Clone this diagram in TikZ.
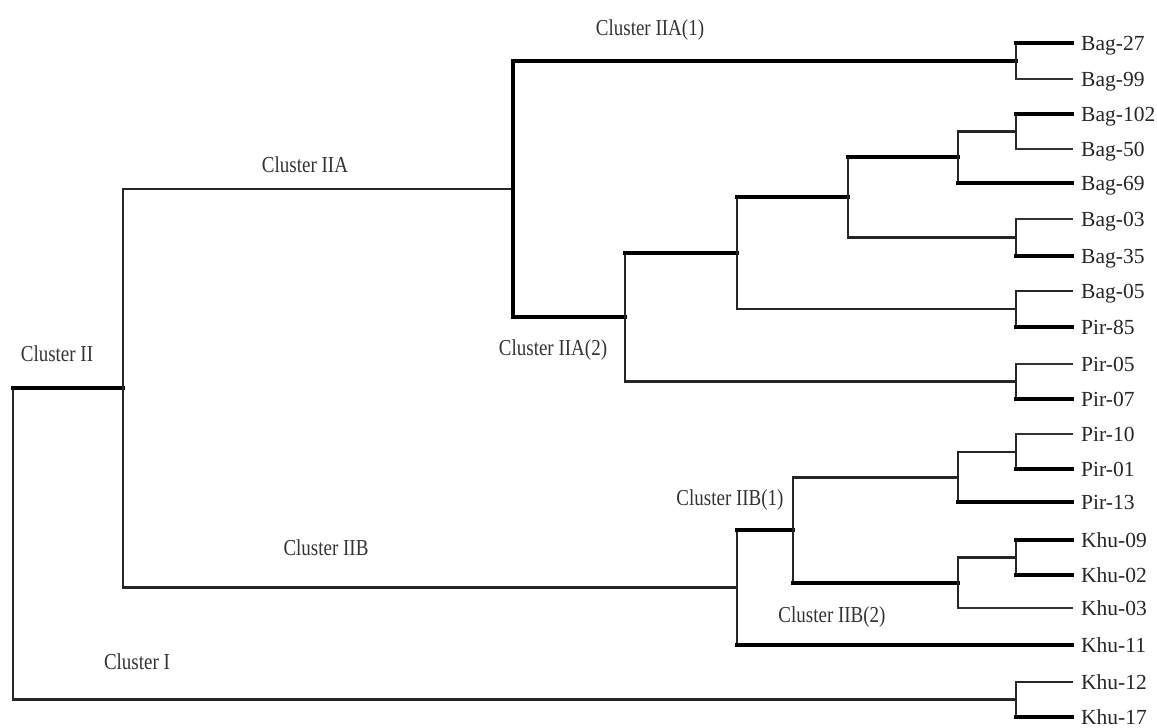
\documentclass[tikz,border=0pt]{standalone}
\usepackage{fontspec}
\setmainfont{Liberation Serif}
\newcommand\elb[4]{\draw[#3] (#1) -- (#1 |- #2); \draw[#4] (#1 |- #2) -- (#2);}
\begin{document}
\begin{tikzpicture}[x=1pt,y=-1pt,
  ln/.style={line width=2.2pt, line cap=rect, draw=black!85},
  lthin/.style={line width=1.6pt, line cap=rect, draw=black!80},
  lthick/.style={line width=3.2pt, line cap=rect, draw=black},
  lvthick/.style={line width=4.8pt, line cap=rect, draw=black},
  leaf/.style={anchor=west, inner xsep=9pt, inner ysep=0pt, text height=14.2pt, text depth=0pt,
    font=\fontsize{21.5}{24}\selectfont, text=black!85},
  clab/.style={font=\fontsize{19}{21}\selectfont, text=black!80, inner sep=0pt}]
\path[use as bounding box] (0,0) rectangle (1157,728);

% internal joins
\coordinate (root) at (13,544);
\coordinate (c2) at (123,388);
\coordinate (c2a) at (513,189);
\coordinate (c2b) at (737,587.5);
\coordinate (a1) at (1016,61);
\coordinate (a2) at (625,317);
\coordinate (n253) at (737,253);
\coordinate (n197) at (848,197);
\coordinate (n157) at (958,157);
\coordinate (b131) at (1016,131.5);
\coordinate (b237) at (1016,237.5);
\coordinate (p309) at (1016,309);
\coordinate (p381) at (1016,381.5);
\coordinate (b1) at (793,530);
\coordinate (n478) at (958,477.5);
\coordinate (n583) at (958,583);
\coordinate (p452) at (1016,452);
\coordinate (k557) at (1016,557.5);
\coordinate (k1217) at (1016,699.5);

% leaves
\node[leaf] (Bag27) at (1072,43) {Bag-27};
\node[leaf] (Bag99) at (1072,79) {Bag-99};
\node[leaf] (Bag102) at (1072,114) {Bag-102};
\node[leaf] (Bag50) at (1072,149) {Bag-50};
\node[leaf] (Bag69) at (1072,183) {Bag-69};
\node[leaf] (Bag03) at (1072,219) {Bag-03};
\node[leaf] (Bag35) at (1072,256) {Bag-35};
\node[leaf] (Bag05) at (1072,291) {Bag-05};
\node[leaf] (Pir85) at (1072,327) {Pir-85};
\node[leaf] (Pir05) at (1072,364) {Pir-05};
\node[leaf] (Pir07) at (1072,399) {Pir-07};
\node[leaf] (Pir10) at (1072,434) {Pir-10};
\node[leaf] (Pir01) at (1072,469) {Pir-01};
\node[leaf] (Pir13) at (1072,502) {Pir-13};
\node[leaf] (Khu09) at (1072,540) {Khu-09};
\node[leaf] (Khu02) at (1072,575) {Khu-02};
\node[leaf] (Khu03) at (1072,608) {Khu-03};
\node[leaf] (Khu11) at (1072,645) {Khu-11};
\node[leaf] (Khu12) at (1072,682) {Khu-12};
\node[leaf] (Khu17) at (1072,717) {Khu-17};

% tree
\elb{root}{c2}{ln}{lvthick}
\elb{root}{k1217}{ln}{ln}
\elb{c2}{c2a}{ln}{ln}
\elb{c2}{c2b}{ln}{ln}
\elb{c2a}{a1}{lthick}{lthick}
\elb{c2a}{a2}{lthick}{lthick}
\elb{a1}{Bag27.west}{ln}{lthick}
\elb{a1}{Bag99.west}{ln}{lthin}
\elb{a2}{n253}{ln}{lthick}
\elb{a2}{p381}{ln}{ln}
\elb{n253}{n197}{ln}{lthick}
\elb{n253}{p309}{ln}{ln}
\elb{n197}{n157}{ln}{lthick}
\elb{n197}{b237}{ln}{ln}
\elb{n157}{b131}{ln}{ln}
\elb{n157}{Bag69.west}{ln}{lvthick}
\elb{b131}{Bag102.west}{ln}{lthick}
\elb{b131}{Bag50.west}{ln}{lthin}
\elb{b237}{Bag03.west}{ln}{lthin}
\elb{b237}{Bag35.west}{ln}{lthick}
\elb{p309}{Bag05.west}{ln}{ln}
\elb{p309}{Pir85.west}{ln}{lthick}
\elb{p381}{Pir05.west}{ln}{lthin}
\elb{p381}{Pir07.west}{ln}{lthick}
\elb{c2b}{b1}{ln}{lthick}
\elb{c2b}{Khu11.west}{ln}{lthick}
\elb{b1}{n478}{ln}{ln}
\elb{b1}{n583}{ln}{lthick}
\elb{n478}{p452}{ln}{ln}
\elb{n478}{Pir13.west}{ln}{lthick}
\elb{p452}{Pir10.west}{ln}{lthin}
\elb{p452}{Pir01.west}{ln}{lthick}
\elb{n583}{k557}{ln}{ln}
\elb{n583}{Khu03.west}{ln}{lthin}
\elb{k557}{Khu09.west}{ln}{lthick}
\elb{k557}{Khu02.west}{ln}{lthick}
\elb{k1217}{Khu12.west}{ln}{ln}
\elb{k1217}{Khu17.west}{ln}{lthick}

% cluster labels
\node[clab] (lIIA1) at (650,30) {\scalebox{1}[1.2]{Cluster IIA(1)}};
\node[clab] (lIIA) at (305,165) {\scalebox{1}[1.2]{Cluster IIA}};
\node[clab] (lII) at (57,354) {\scalebox{1}[1.2]{Cluster II}};
\node[clab] (lIIA2) at (553,350) {\scalebox{1}[1.2]{Cluster IIA(2)}};
\node[clab] (lIIB1) at (730,500) {\scalebox{1}[1.2]{Cluster IIB(1)}};
\node[clab] (lIIB) at (326,548) {\scalebox{1}[1.2]{Cluster IIB}};
\node[clab] (lIIB2) at (832,617) {\scalebox{1}[1.2]{Cluster IIB(2)}};
\node[clab] (lI) at (137,662) {\scalebox{1}[1.2]{Cluster I}};
\end{tikzpicture}
\end{document}
